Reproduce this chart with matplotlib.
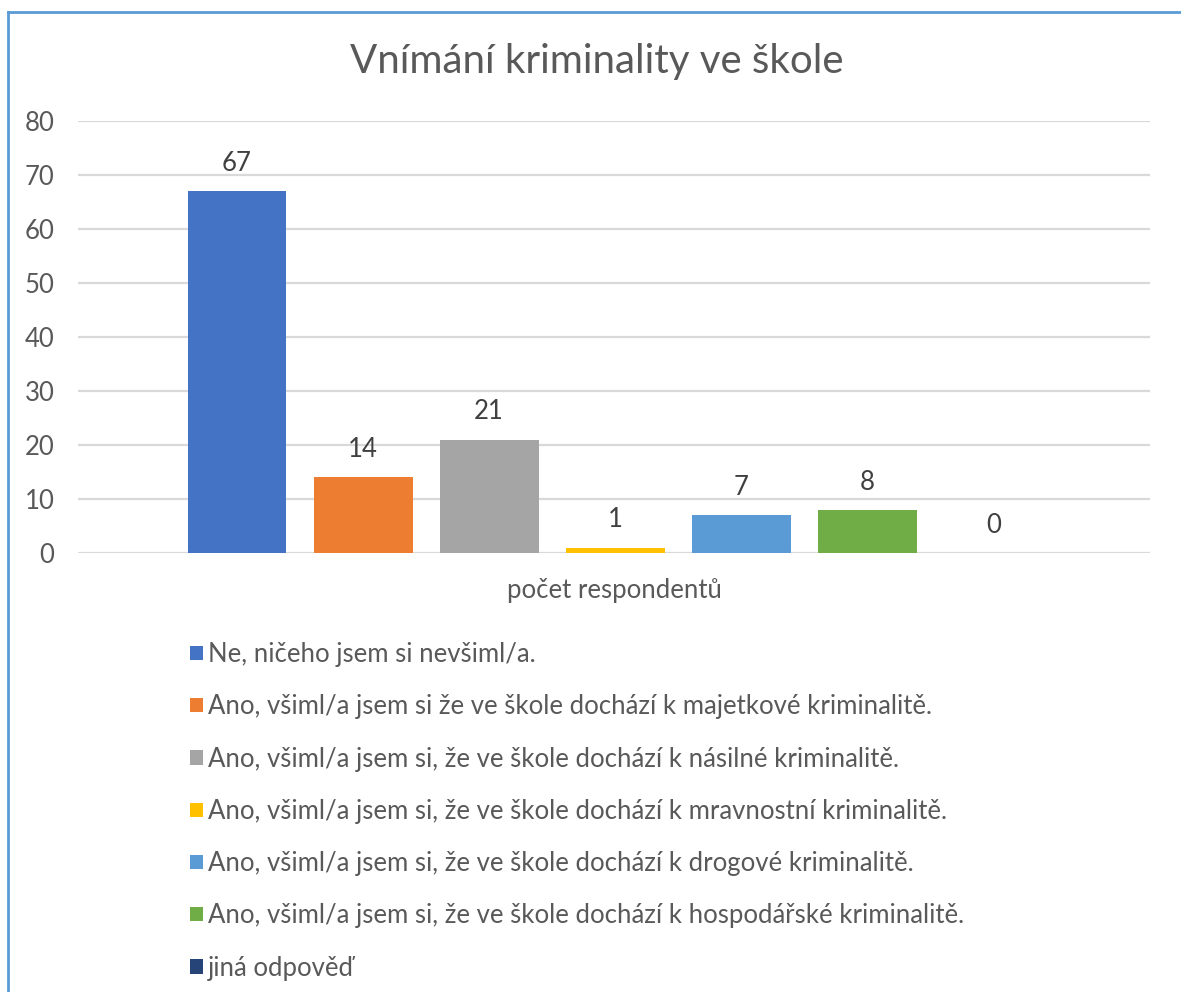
import matplotlib
matplotlib.use('Agg')
import matplotlib.pyplot as plt
from matplotlib.lines import Line2D

# Data
title = 'Vnímání kriminality ve škole'
category = 'počet respondentů'
answers = [
    'Ne, ničeho jsem si nevšiml/a.',
    'Ano, všiml/a jsem si že ve škole dochází k majetkové kriminalitě.',
    'Ano, všiml/a jsem si, že ve škole dochází k násilné kriminalitě.',
    'Ano, všiml/a jsem si, že ve škole dochází k mravnostní kriminalitě.',
    'Ano, všiml/a jsem si, že ve škole dochází k drogové kriminalitě.',
    'Ano, všiml/a jsem si, že ve škole dochází k hospodářské kriminalitě.',
    'jiná odpověď',
]
counts = [67, 14, 21, 1, 7, 8, 0]
colors = ['#4472C4', '#ED7D31', '#A5A5A5', '#FFC000', '#5B9BD5', '#70AD47', '#264478']
yticks = [0, 10, 20, 30, 40, 50, 60, 70, 80]

txt = '#595959'
fs = 18.5
plt.rcParams['font.family'] = ['Lato', 'DejaVu Sans']

fig = plt.figure(figsize=(11.81, 9.92), dpi=100)
ax = fig.add_axes([0.066, 0.4425, 0.908, 0.4355])

xs = list(range(len(counts)))
bars = ax.bar(xs, counts, width=0.785, color=colors, label=answers, zorder=3)
for x, v in zip(xs, counts):
    ax.annotate(str(v), (x, v), xytext=(0, 11), textcoords='offset points',
                ha='center', va='bottom', fontsize=fs, color='#404040')

ax.set_xlim(-1.262, 7.246)
ax.set_ylim(0, 80)
ax.set_yticks(yticks)
ax.set_xticks([])
ax.tick_params(axis='y', length=0, pad=17, labelsize=fs, labelcolor=txt)
ax.grid(axis='y', color='#D9D9D9', linewidth=1.6, zorder=0)
for s in ax.spines.values():
    s.set_visible(False)

fig.text(0.505, 0.9375, title, ha='center', va='center', fontsize=29, color=txt)
fig.text(0.52, 0.405, category, ha='center', va='center', fontsize=fs, color=txt)

fig.legend(handles=bars, labels=answers, loc='upper left',
           bbox_to_anchor=(0.1525, 0.363), frameon=False, fontsize=fs,
           labelcolor=txt, handlelength=0.48, handleheight=0.48,
           handletextpad=0.2, labelspacing=1.06, borderaxespad=0)

# light blue frame on left and top, as in the screenshot
fig.add_artist(Line2D([8/1181, 8/1181], [0, 1 - 12/992], transform=fig.transFigure,
                      color='#5B9BD5', linewidth=2))
fig.add_artist(Line2D([8/1181, 1], [1 - 12/992, 1 - 12/992], transform=fig.transFigure,
                      color='#5B9BD5', linewidth=2))

fig.savefig('out.png', dpi=100)
